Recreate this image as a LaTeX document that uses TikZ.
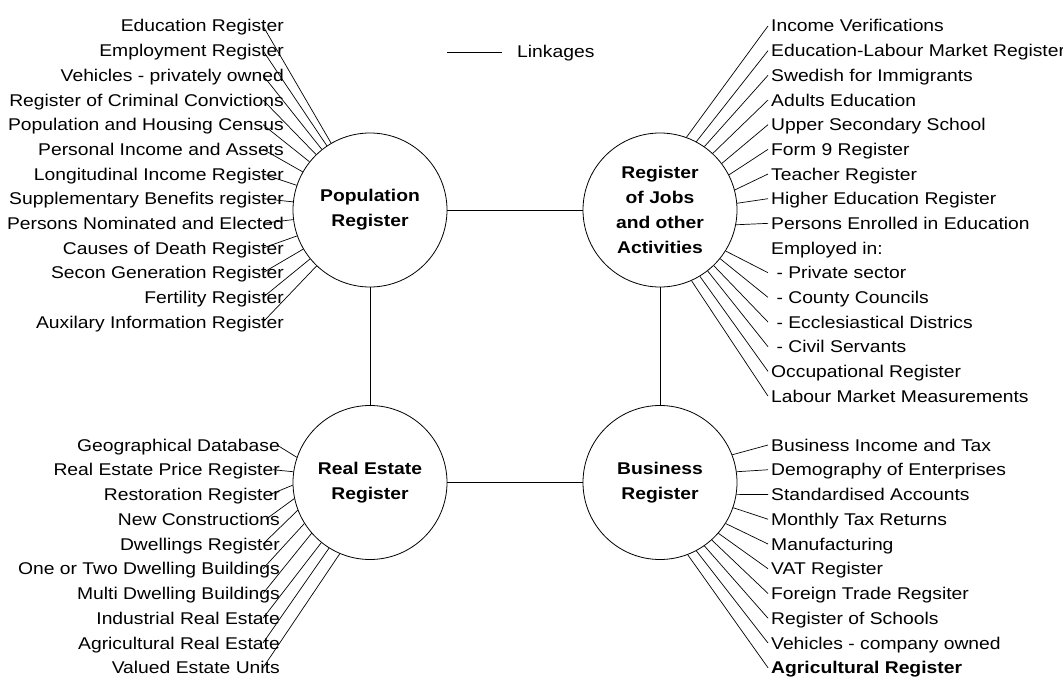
\documentclass[tikz,border=0pt]{standalone}
\usepackage{fontspec}
\setmainfont{Liberation Sans}[FakeStretch=1.135]
\usetikzlibrary{positioning}

\tikzset{
  register/.style={circle, draw, line width=0.8pt, minimum size=154pt, inner sep=0pt, align=center, font=\bfseries\fontsize{17}{25}\selectfont},
  item/.style={inner sep=0pt, font=\fontsize{17}{20}\selectfont},
  link/.style={line width=0.8pt},
  spoke/.style={line width=0.7pt}
}

\begin{document}
\begin{tikzpicture}[x=1pt,y=-1pt]
\useasboundingbox (0,0) rectangle (1063,677);

\node[register] (pop) at (370,210) {Population\\Register};
\node[register] (jobs) at (660,210) {Register\\of Jobs\\and other\\Activities};
\node[register] (real) at (370,482.5) {Real Estate\\Register};
\node[register] (bus) at (660,482.5) {Business\\Register};

\draw[link] (pop) -- (jobs);
\draw[link] (pop) -- (real);
\draw[link] (jobs) -- (bus);
\draw[link] (real) -- (bus);

% key
\coordinate (keyA) at (447,52);
\coordinate (keyB) at (502,52);
\draw[link] (keyA) -- (keyB);
\node[item, anchor=base west] (key) at (517,58) {Linkages};

% population register
\foreach \txt [count=\i from 0] in {Education Register, Employment Register, Vehicles - privately owned, Register of Criminal Convictions, Population and Housing Census, Personal Income and Assets, Longitudinal Income Register, Supplementary Benefits register, Persons Nominated and Elected, Causes of Death Register, Secon Generation Register, Fertility Register, Auxilary Information Register}{
  \node[item, anchor=base east] (pl\i) at (284,{32+24.67*\i}) {\txt};
  \coordinate (ps\i) at (263,{26+24.67*\i});
  \draw[spoke] (ps\i) -- (pop);
}

% jobs and other activities
\foreach \row/\dir/\txt in {0/70/Income Verifications, 1/62/Education-Labour Market Register, 2/55/Swedish for Immigrants, 3/47/Adults Education, 4/37/Upper Secondary School, 5/27/Form 9 Register, 6/15/Teacher Register, 7/5/Higher Education Register, 8/349/Persons Enrolled in Education, 10/328/\ - Private sector, 11/321/\ - County Councils, 12/314/\ - Ecclesiastical Districs, 13/308/\ - Civil Servants, 14/301/Occupational Register, 15/294/Labour Market Measurements}{
  \node[item, anchor=base west] (jl\row) at (771,{32+24.67*\row}) {\txt};
  \coordinate (js\row) at (768,{26+24.67*\row});
  \draw[spoke] (js\row) -- (jobs.\dir);
}
\node[item, anchor=base west] (jl9) at (771,{32+24.67*9}) {Employed in:};

% business register
\foreach \row/\dir/\txt in {0/21/Business Income and Tax, 1/8/Demography of Enterprises, 2/351/Standardised Accounts, 3/341/Monthly Tax Returns, 4/328/Manufacturing, 5/319/VAT Register, 6/312/Foreign Trade Regsiter, 7/305/Register of Schools, 8/298/Vehicles - company owned, 9/291/\textbf{Agricultural Register}}{
  \node[item, anchor=base west] (bl\row) at (771,{451+24.75*\row}) {\txt};
  \coordinate (bs\row) at (768,{445+24.75*\row});
  \draw[spoke] (bs\row) -- (bus.\dir);
}

% real estate register
\foreach \row/\sx/\dir/\txt in {0/277/161/Geographical Database, 1/273/172/Real Estate Price Register, 2/270/182/Restoration Register, 3/266/192/New Constructions, 4/263/201/Dwellings Register, 5/263/212/One or Two Dwelling Buildings, 6/263/221/Multi Dwelling Buildings, 7/263/231/Industrial Real Estate, 8/263/238/Agricultural Real Estate, 9/263/247/Valued Estate Units}{
  \node[item, anchor=base east] (rl\row) at (280,{451+24.75*\row}) {\txt};
  \coordinate (rs\row) at (\sx,{445+24.75*\row});
  \draw[spoke] (rs\row) -- (real.\dir);
}
\end{tikzpicture}
\end{document}
